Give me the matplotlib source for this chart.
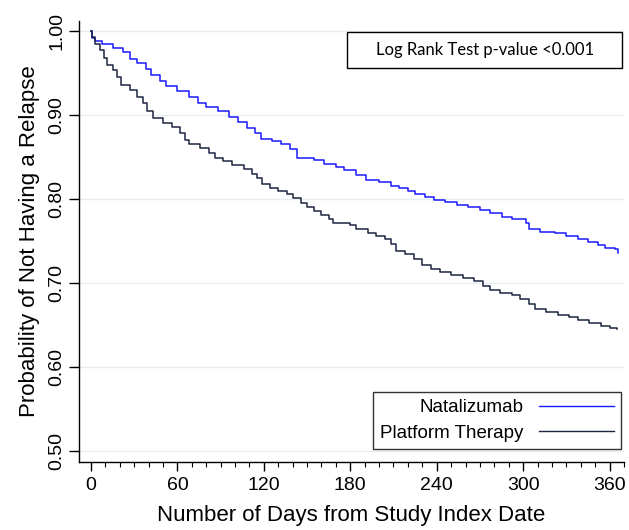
import matplotlib
matplotlib.use("Agg")
import matplotlib.pyplot as plt
from matplotlib.ticker import MultipleLocator
from matplotlib.lines import Line2D
from matplotlib.patches import Rectangle

# Natalizumab step curve (days, survival)
nat_days = [0, 1, 3, 8, 15, 22, 27, 32, 38, 42, 48, 52, 60, 68, 74, 80, 88, 96, 102, 108,
            114, 118, 126, 132, 138, 143, 155, 162, 170, 176, 184, 191, 200, 208, 214, 220,
            225, 232, 238, 246, 254, 262, 270, 277, 285, 292, 302, 304, 312, 322, 330, 338,
            345, 352, 357, 364, 366]
nat_surv = [1.000, 0.992, 0.988, 0.984, 0.980, 0.975, 0.967, 0.962, 0.955, 0.948, 0.940,
            0.934, 0.928, 0.922, 0.914, 0.909, 0.905, 0.898, 0.892, 0.885, 0.878, 0.872,
            0.869, 0.866, 0.860, 0.849, 0.846, 0.842, 0.838, 0.834, 0.829, 0.823, 0.820,
            0.816, 0.813, 0.810, 0.806, 0.802, 0.799, 0.796, 0.793, 0.790, 0.787, 0.783,
            0.779, 0.776, 0.772, 0.764, 0.761, 0.759, 0.756, 0.752, 0.749, 0.745, 0.742,
            0.740, 0.736]

# Platform therapy step curve (days, survival)
plat_days = [0, 1, 3, 6, 9, 11, 15, 18, 21, 27, 32, 36, 39, 43, 50, 56, 62, 65, 68, 76, 82,
             86, 92, 98, 106, 112, 115, 119, 124, 130, 136, 140, 146, 150, 155, 160, 165,
             168, 180, 184, 192, 198, 204, 208, 212, 218, 224, 230, 236, 242, 250, 258, 266,
             272, 277, 284, 292, 298, 304, 308, 316, 324, 332, 338, 346, 354, 360, 365]
plat_surv = [1.000, 0.993, 0.985, 0.977, 0.968, 0.960, 0.954, 0.945, 0.936, 0.930, 0.922,
             0.914, 0.905, 0.897, 0.891, 0.886, 0.879, 0.870, 0.866, 0.861, 0.855, 0.849,
             0.845, 0.840, 0.836, 0.830, 0.825, 0.818, 0.813, 0.809, 0.806, 0.801, 0.795,
             0.790, 0.786, 0.781, 0.776, 0.771, 0.769, 0.764, 0.760, 0.756, 0.752, 0.746,
             0.738, 0.734, 0.728, 0.722, 0.717, 0.713, 0.709, 0.706, 0.702, 0.697, 0.692,
             0.688, 0.686, 0.681, 0.675, 0.669, 0.666, 0.662, 0.659, 0.656, 0.652, 0.649,
             0.646, 0.645]

series_names = ["Natalizumab", "Platform Therapy"]
x_ticks = [0, 60, 120, 180, 240, 300, 360]
y_ticks = [0.50, 0.60, 0.70, 0.80, 0.90, 1.00]
y_ticklabels = ["0.50", "0.60", "0.70", "0.80", "0.90", "1.00"]
annotation = "Log Rank Test p-value <0.001"

plt.rcParams['font.family'] = ['Liberation Sans', 'DejaVu Sans']

BLUE = "#1a1aff"
NAVY = "#1c2540"

fig = plt.figure(figsize=(6.29, 5.30), dpi=100)
ax = fig.add_axes([0.1256, 0.1283, 0.8664, 0.8321])

for y in y_ticks:
    ax.axhline(y, color="#e6eef0", lw=1.0, zorder=0)

ax.plot(nat_days, nat_surv, drawstyle="steps-post", color=BLUE, lw=1.1, zorder=3)
ax.plot(plat_days, plat_surv, drawstyle="steps-post", color=NAVY, lw=1.1, zorder=3)

ax.set_xlim(-8.3, 370)
ax.set_ylim(0.4869, 1.0119)

ax.spines['top'].set_visible(False)
ax.spines['right'].set_visible(False)
ax.spines['left'].set_linewidth(1.0)
ax.spines['bottom'].set_linewidth(1.0)

ax.set_xticks(x_ticks)
ax.xaxis.set_minor_locator(MultipleLocator(10))
ax.set_yticks(y_ticks)
ax.set_yticklabels(y_ticklabels, rotation=90, va="center")
ax.tick_params(axis="x", which="major", length=6.5, width=1.0, labelsize=14, pad=4)
ax.tick_params(axis="x", which="minor", length=3.5, width=0.8)
ax.tick_params(axis="y", which="major", length=7, width=1.0, labelsize=14, pad=3)

ax.set_xlabel("Number of Days from Study Index Date", fontsize=16, labelpad=8)
ax.set_ylabel("Probability of Not Having a Relapse", fontsize=16, labelpad=6)

ax.add_patch(Rectangle((0.492, 0.893), 0.505, 0.082, transform=ax.transAxes,
                       fc="white", ec="black", lw=1.0, zorder=5))
ax.text(0.745, 0.934, annotation, transform=ax.transAxes, ha="center", va="center",
        fontsize=12, family=["Lato", "DejaVu Sans"], zorder=6)

handles = [Line2D([0], [0], color=BLUE, lw=1.0), Line2D([0], [0], color=NAVY, lw=1.0)]
leg = ax.legend(handles, series_names, loc="lower right", bbox_to_anchor=(0.995, 0.029),
                markerfirst=False, frameon=True, fancybox=False, fontsize=13.5,
                handlelength=4.0, handletextpad=0.8, borderpad=0.4, labelspacing=0.45,
                borderaxespad=0.0)
leg.get_frame().set_edgecolor("black")
leg.get_frame().set_linewidth(1.0)
for t in leg.get_texts():
    t.set_ha("right")

fig.savefig("out.png", dpi=100)
